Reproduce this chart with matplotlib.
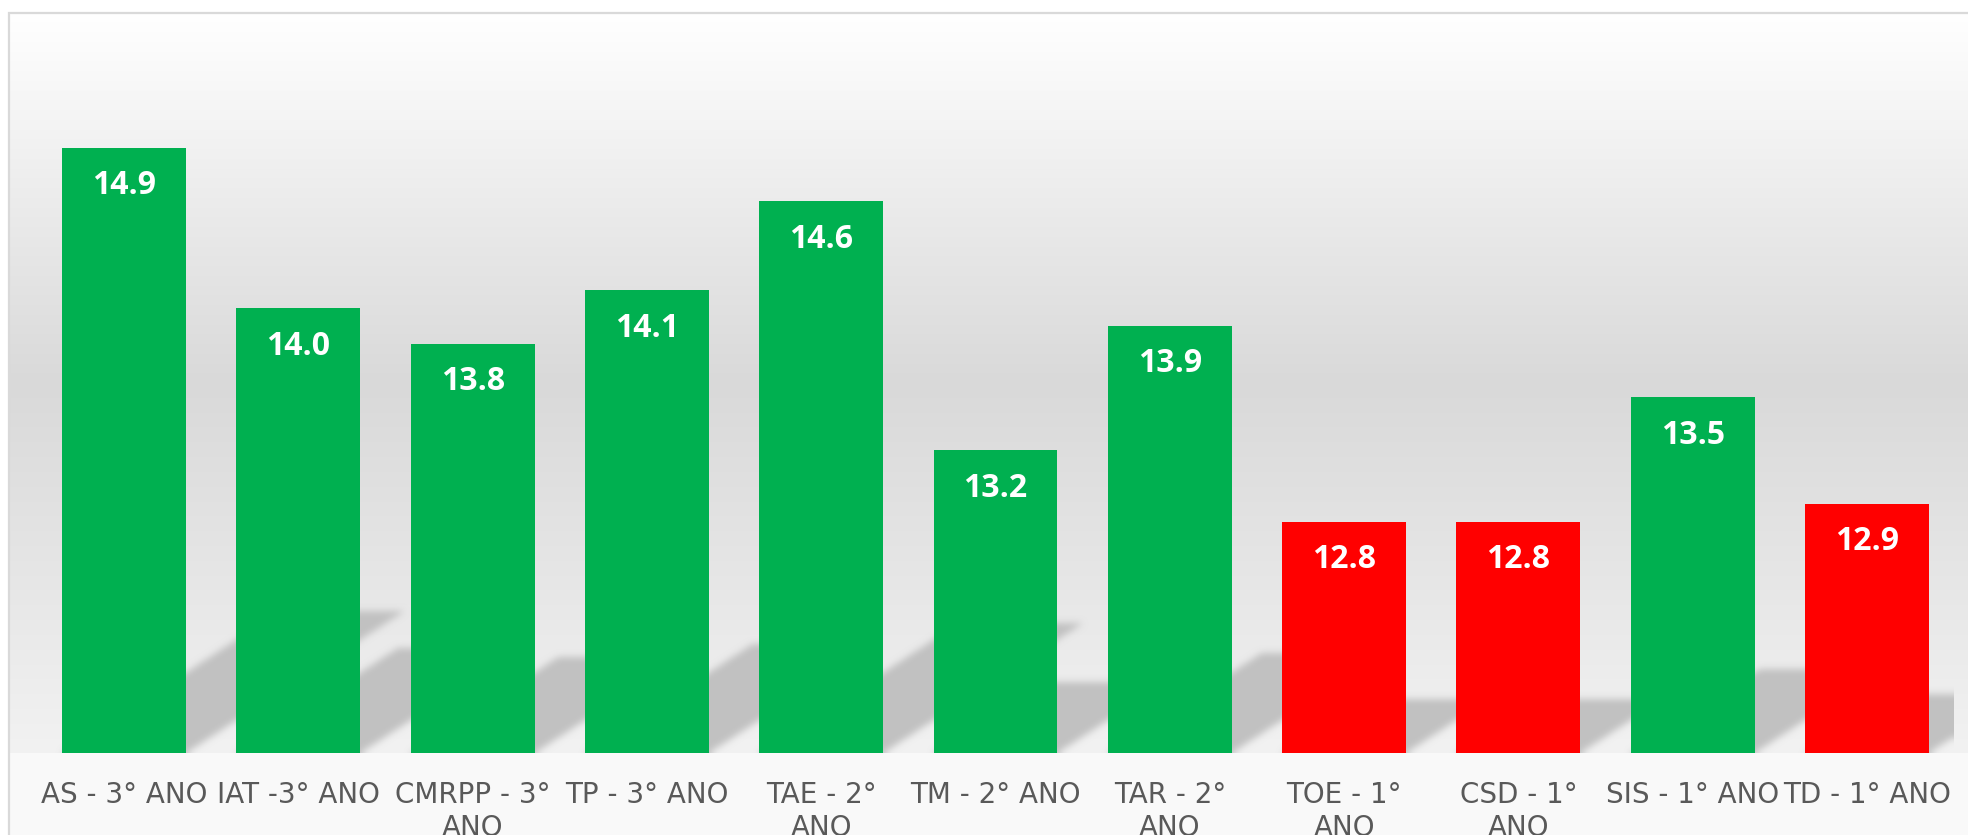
import numpy as np
import matplotlib
matplotlib.use("Agg")
import matplotlib.pyplot as plt

# ---- data ----
categories = ["AS - 3° ANO", "IAT -3° ANO", "CMRPP - 3°\nANO", "TP - 3° ANO",
              "TAE - 2°\nANO", "TM - 2° ANO", "TAR - 2°\nANO", "TOE - 1°\nANO",
              "CSD - 1°\nANO", "SIS - 1° ANO", "TD - 1° ANO"]
values = [14.9, 14.0, 13.8, 14.1, 14.6, 13.2, 13.9, 12.8, 12.8, 13.5, 12.9]
threshold = 13.0
y_min, y_max = 11.5, 15.5

GREEN = "#00B050"
RED = "#FF0000"

W, H, DPI = 1968, 835, 100
fig = plt.figure(figsize=(W / DPI, H / DPI), dpi=DPI)

# ---- background (chart area gradient + frame) ----
bg = fig.add_axes([0, 0, 1, 1])
bg.set_zorder(0)
frame_x, frame_y, base_y = 8, 12, 753
rows = np.arange(H, dtype=float)
stops_f = [0.0, 0.5, 1.0]
stops_v = [255.0, 217.0, 242.0]
frac = np.clip((rows - frame_y) / (base_y - frame_y), 0, 1)
col = np.interp(frac, stops_f, stops_v)
col[rows >= base_y] = 249.0
col[rows < frame_y] = 255.0
img = np.repeat(col[:, None], W, axis=1)
img[:, :frame_x] = 255.0
img = np.dstack([img, img, img]) / 255.0
bg.imshow(img, extent=[0, W, H, 0], aspect="auto", interpolation="nearest")
bg.plot([frame_x + 0.5, frame_x + 0.5, W], [H, frame_y + 0.5, frame_y + 0.5],
        color="#D9D9D9", lw=1.6, solid_joinstyle="miter")
bg.set_xlim(0, W)
bg.set_ylim(H, 0)
bg.axis("off")

# ---- main axes ----
left_px, right_px, top_px = 37, 1954, 41
ax = fig.add_axes([left_px / W, (H - base_y) / H, (right_px - left_px) / W,
                   (base_y - top_px) / H])
ax.set_zorder(1)
ax.patch.set_alpha(0)
n = len(values)
x = np.arange(n)
width = 0.711
ax.set_xlim(-0.5, n - 0.5)
ax.set_ylim(y_min, y_max)

bar_colors = [RED if v < threshold else GREEN for v in values]

# ---- perspective shadows (derived from bars) ----
aw = right_px - left_px
ah = base_y - top_px
px_per_x = aw / (n)          # pixels per category unit
px_per_y = ah / (y_max - y_min)
slope = 0.65                  # dy/dx in pixels
k = 0.235                     # shadow height relative to bar height
ratio = (px_per_y / slope) / px_per_x  # data-x shift per data-y rise
gx = -0.5 + (np.arange(aw) + 0.5) / aw * n
gy = y_min + (np.arange(ah) + 0.5) / ah * (y_max - y_min)
GX, GY = np.meshgrid(gx, gy)
mask = np.zeros_like(GX)
for xi, v in zip(x, values):
    h = v - y_min
    t = GY - y_min
    xs = GX - t * ratio
    inside = (t <= k * h) & (xs >= xi - width / 2) & (xs <= xi + width / 2)
    mask[inside] = 1.0


def box_blur(a, r, axis):
    pad = [(0, 0), (0, 0)]
    pad[axis] = (r + 1, r)
    p = np.pad(a, pad, mode="edge")
    c = np.cumsum(p, axis=axis)
    if axis == 0:
        return (c[2 * r + 1:, :] - c[:-2 * r - 1, :]) / (2 * r + 1)
    return (c[:, 2 * r + 1:] - c[:, :-2 * r - 1]) / (2 * r + 1)


for _ in range(3):
    mask = box_blur(mask, 3, 0)
    mask = box_blur(mask, 3, 1)

sh = np.zeros((ah, aw, 4))
sh[..., 0:3] = 0.76
sh[..., 3] = np.clip(mask, 0, 1)
ax.imshow(sh, extent=(-0.5, n - 0.5, y_min, y_max), origin="lower",
          aspect="auto", interpolation="bilinear", zorder=1)

# ---- bars ----
bars = ax.bar(x, values, width=width, color=bar_colors, zorder=2)

for xi, v in zip(x, values):
    ax.annotate(f"{v:.1f}", xy=(xi, v), xytext=(0, -15.5), textcoords="offset points",
                ha="center", va="top", color="white", fontsize=23,
                fontweight="bold", family=["Open Sans", "DejaVu Sans"], zorder=3)

ax.set_xticks(x)
ax.set_xticklabels(categories, fontsize=20, color="#595959",
                   family=["DejaVu Sans"])
for t in ax.get_xticklabels():
    t.set_linespacing(1.25)
ax.tick_params(axis="x", length=0, pad=20)
ax.set_yticks([])
for s in ax.spines.values():
    s.set_visible(False)

fig.savefig("out.png", dpi=DPI)
